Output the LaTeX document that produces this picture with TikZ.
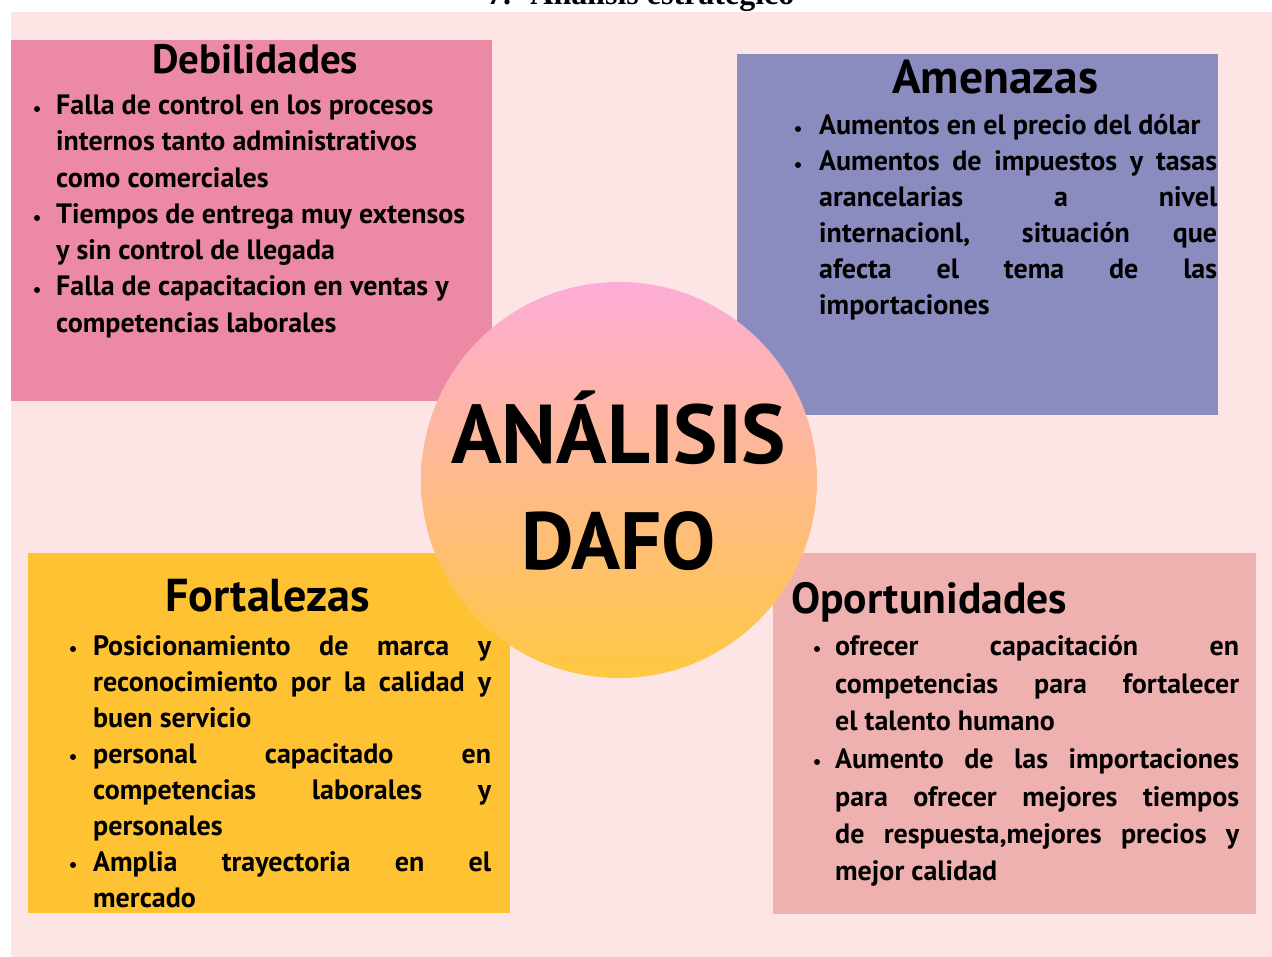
\documentclass[tikz,border=0pt]{standalone}
\usepackage{fontspec}
\usepackage{graphicx}
\setmainfont{PT Sans}
\newfontfamily\headingfont{Liberation Serif}

\definecolor{bgpink}{RGB}{253,229,229}
\definecolor{debcol}{RGB}{236,137,165}
\definecolor{amecol}{RGB}{138,139,191}
\definecolor{forcol}{RGB}{254,194,50}
\definecolor{opocol}{RGB}{239,176,176}
\definecolor{ctop}{RGB}{253,172,215}
\definecolor{cmid}{RGB}{253,180,165}
\definecolor{cbot}{RGB}{254,200,65}

% line width for justified lines, and a scratch length
\newlength\bw
\newlength\lw
% justified line: spaces stretched to \bw, squeezed if too long
\newcommand\jl[1]{\settowidth\lw{#1}\ifdim\lw>\bw\resizebox{\bw}{\height}{#1}\else\makebox[\bw][s]{#1}\fi}
% ragged line
\newcommand\rl[1]{#1}

\tikzset{
  bodyline/.style={anchor=base west, inner sep=0pt, font=\fontsize{28}{36}\selectfont\bfseries},
  bulletdot/.style={circle, fill=black, inner sep=0pt, minimum size=6pt},
  boxtitle/.style={anchor=base west, inner sep=0pt, font=\fontsize{40}{40}\selectfont\bfseries},
  bigword/.style={anchor=base west, inner sep=0pt, font=\fontsize{80}{80}\selectfont\bfseries},
}

\begin{document}
\begin{tikzpicture}[x=1pt,y=-1pt]
\useasboundingbox (0,0) rectangle (1272,957);
\fill[white] (0,0) rectangle (1272,957);
\fill[bgpink] (11,12) rectangle (1272,957);

% section heading above the poster
\node[anchor=base west, inner sep=0pt, font={\headingfont\bfseries\fontsize{32}{32}\selectfont}] (heading) at (487,5) {7.\hspace{0.6em}Análisis estratégico};

% the four quadrant panels
\fill[debcol] (11,40) rectangle (492,401);
\fill[amecol] (737,54) rectangle (1218,415);
\fill[forcol] (28,553) rectangle (510,913);
\fill[opocol] (773,553) rectangle (1256,914);

% central disc
\shade[top color=ctop, middle color=cmid, bottom color=cbot] (619,480) circle[radius=198pt];
\node[bigword] (centre1) at (451,464) {\resizebox{335pt}{!}{ANÁLISIS}};
\node[bigword] (centre2) at (521,569) {\resizebox{195pt}{!}{DAFO}};

% panel titles
\node[boxtitle] (tdeb) at (152,74) {\resizebox{206pt}{!}{Debilidades}};
\node[boxtitle] (tame) at (892,94) {\resizebox{206pt}{!}{Amenazas}};
\node[boxtitle] (tfor) at (165,611) {\resizebox{205pt}{!}{Fortalezas}};
\node[boxtitle] (topo) at (791,613) {\resizebox{276pt}{!}{Oportunidades}};

% Debilidades
\foreach \i/\y/\t in {1/115/{Falla de control en los procesos},
                      2/151/{internos tanto administrativos},
                      3/188/{como comerciales},
                      4/224/{Tiempos de entrega muy extensos},
                      5/260/{y sin control de llegada},
                      6/296/{Falla de capacitacion en ventas y},
                      7/333/{competencias laborales}}
  \node[bodyline] (deb\i) at (56,\y) {\t};
\foreach \i/\y in {1/115,4/224,6/296}
  \node[bulletdot] (debb\i) at (37,{\y-6}) {};

% Amenazas
\setlength\bw{398pt}
\foreach \i/\y/\k/\t in {1/135/\rl/{Aumentos en el precio del dólar},
                         2/171/\jl/{Aumentos de impuestos y tasas},
                         3/207/\jl/{arancelarias a nivel},
                         4/243/\jl/{internacionl, situación que},
                         5/279/\jl/{afecta el tema de las},
                         6/315/\rl/{importaciones}}
  \node[bodyline] (ame\i) at (819,\y) {\k{\t}};
\foreach \i/\y in {1/135,2/171}
  \node[bulletdot] (ameb\i) at (798,{\y-6}) {};

% Fortalezas
\setlength\bw{398pt}
\foreach \i/\y/\k/\t in {1/655/\jl/{Posicionamiento de marca y},
                         2/691/\jl/{reconocimiento por la calidad y},
                         3/727/\rl/{buen servicio},
                         4/763/\jl/{personal capacitado en},
                         5/799/\jl/{competencias laborales y},
                         6/835/\rl/{personales},
                         7/871/\jl/{Amplia trayectoria en el},
                         8/907/\rl/{mercado}}
  \node[bodyline] (for\i) at (93,\y) {\k{\t}};
\foreach \i/\y in {1/655,4/763,7/871}
  \node[bulletdot] (forb\i) at (73,{\y-6}) {};

% Oportunidades
\setlength\bw{404pt}
\foreach \i/\y/\k/\t in {1/655/\jl/{ofrecer capacitación en},
                         2/693/\jl/{competencias para fortalecer},
                         3/730/\rl/{el talento humano},
                         4/768/\jl/{Aumento de las importaciones},
                         5/806/\jl/{para ofrecer mejores tiempos},
                         6/843/\jl/{de respuesta,mejores precios y},
                         7/880/\rl/{mejor calidad}}
  \node[bodyline] (opo\i) at (835,\y) {\k{\t}};
\foreach \i/\y in {1/655,4/768}
  \node[bulletdot] (opob\i) at (817,{\y-6}) {};
\end{tikzpicture}
\end{document}
